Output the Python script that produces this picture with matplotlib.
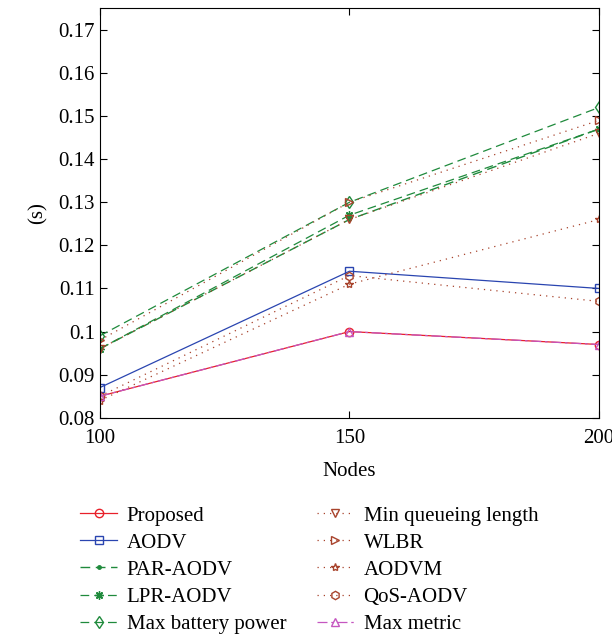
import matplotlib.pyplot as plt
import numpy as np

plt.rcParams['font.family'] = ['Liberation Serif', 'DejaVu Serif']

nodes = [100, 150, 200]

proposed = [0.085, 0.100, 0.097]
aodv = [0.087, 0.114, 0.110]
par_aodv = [0.096, 0.126, 0.147]
lpr_aodv = [0.096, 0.127, 0.147]
max_battery = [0.099, 0.130, 0.152]
min_queue = [0.096, 0.126, 0.146]
wlbr = [0.098, 0.130, 0.149]
aodvm = [0.084, 0.111, 0.126]
qos_aodv = [0.085, 0.113, 0.107]
max_metric = [0.085, 0.100, 0.097]

red = '#e8202a'
blue = '#2a45b0'
green = '#1f8a3c'
brown = '#a8432c'
magenta = '#c556c0'

fig = plt.figure(figsize=(6.12, 6.34), dpi=100)
ax = fig.add_axes([0.163, 0.341, 0.816, 0.646])

mk = dict(markersize=6, markerfacecolor='none', markeredgewidth=1.0, linewidth=0.9)
dash = (7, 4)
dot = (1, 4)
ax.plot(nodes, proposed, '-', color=red, marker='o', label='Proposed', **mk)
ax.plot(nodes, aodv, '-', color=blue, marker='s', label='AODV', **mk)
ax.plot(nodes, par_aodv, color=green, marker='.', label='PAR-AODV',
        markersize=5, linewidth=1.0, dashes=dash)
ax.plot(nodes, lpr_aodv, color=green, marker=(8, 2, 0), label='LPR-AODV', dashes=dash, **mk)
ax.plot(nodes, max_battery, color=green, marker='d', label='Max battery power', dashes=dash, **mk)
ax.plot(nodes, min_queue, color=brown, marker='v', label='Min queueing length', dashes=dot, **mk)
ax.plot(nodes, wlbr, color=brown, marker='>', label='WLBR', dashes=dot, **mk)
ax.plot(nodes, aodvm, color=brown, marker='*', label='AODVM', dashes=dot, **mk)
ax.plot(nodes, qos_aodv, color=brown, marker='h', label='QoS-AODV', dashes=dot, **mk)
ax.plot(nodes, max_metric, color=magenta, marker='^', label='Max metric', dashes=(8, 3, 2, 3), **mk)

ax.set_xlim(100, 200)
ax.set_ylim(0.08, 0.175)
ax.set_xticks([100, 150, 200])
ax.set_yticks(np.arange(0.08, 0.171, 0.01))
ax.set_yticklabels(['0.08', '0.09', '0.1', '0.11', '0.12', '0.13', '0.14',
                    '0.15', '0.16', '0.17'])
ax.tick_params(direction='in', labelsize=15, length=5, right=True, top=True)
ax.tick_params(axis='x', pad=8)
ax.set_xlabel('Nodes', fontsize=15, labelpad=10)
ax.set_ylabel('(s)', fontsize=15, labelpad=8)

ax.legend(loc='upper left', bbox_to_anchor=(0.117, 0.215), bbox_transform=fig.transFigure,
          ncol=2, frameon=False, fontsize=15, handlelength=1.8, columnspacing=1.45,
          labelspacing=0.36, handletextpad=0.45, borderaxespad=0)

fig.savefig('out.png', dpi=100)
